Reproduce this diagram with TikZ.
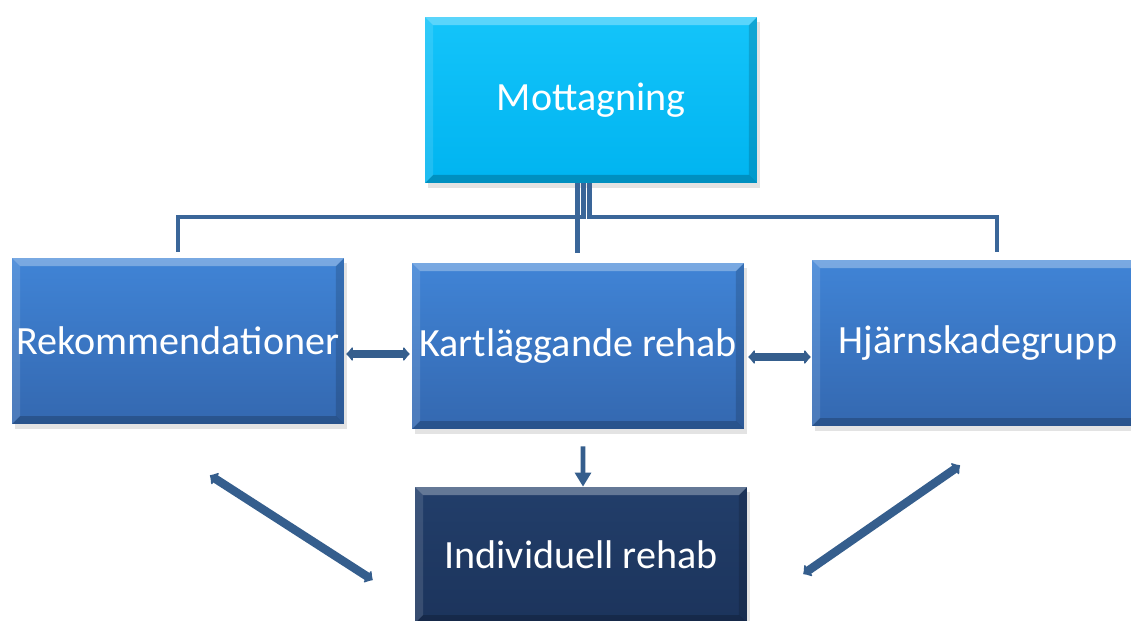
\documentclass[tikz,border=0pt]{standalone}
\usepackage{fontspec}
\setmainfont{Carlito}
\usetikzlibrary{arrows.meta,shadows,calc}
\definecolor{cyanA}{RGB}{20,196,250}
\definecolor{cyanB}{RGB}{0,180,240}
\definecolor{blueA}{RGB}{64,132,214}
\definecolor{blueB}{RGB}{52,104,176}
\definecolor{navyA}{RGB}{34,62,106}
\definecolor{navyB}{RGB}{28,52,92}
\definecolor{lineC}{RGB}{58,102,153}
\tikzset{
  bev/.style={rectangle, minimum width=6.64cm, minimum height=3.32cm, inner sep=0pt,
    text=white, font=\fontsize{22.8}{27}\selectfont,
    drop shadow={opacity=0.22, shadow xshift=0.06cm, shadow yshift=-0.1cm},
    path picture={
      \coordinate (nw) at (path picture bounding box.north west);
      \coordinate (ne) at (path picture bounding box.north east);
      \coordinate (sw) at (path picture bounding box.south west);
      \coordinate (se) at (path picture bounding box.south east);
      \fill[white, opacity=0.3] (nw) -- (ne) -- ++(-0.16cm,-0.16cm) -- ($(nw)+(0.16cm,-0.16cm)$) -- cycle;
      \fill[black, opacity=0.2] (sw) -- (se) -- ++(-0.16cm,0.16cm) -- ($(sw)+(0.16cm,0.16cm)$) -- cycle;
      \fill[white, opacity=0.12] (nw) -- (sw) -- ++(0.16cm,0.16cm) -- ($(nw)+(0.16cm,-0.16cm)$) -- cycle;
      \fill[black, opacity=0.15] (ne) -- (se) -- ++(-0.16cm,0.16cm) -- ($(ne)+(-0.16cm,-0.16cm)$) -- cycle;
    }},
  cyanbox/.style={bev, top color=cyanA, bottom color=cyanB},
  bluebox/.style={bev, top color=blueA, bottom color=blueB},
  navybox/.style={bev, top color=navyA, bottom color=navyB},
  conn/.style={draw=lineC, line width=2.8pt},
  dbl/.style={draw=lineC!92!black, line width=4.8pt, {Latex[length=4pt,width=10pt,round]}-{Latex[length=4pt,width=10pt,round]}},
  darr/.style={draw=lineC!92!black, line width=2.8pt, -{Triangle[length=8pt,width=9pt]}}
}
\begin{document}
\begin{tikzpicture}[x=0.02cm,y=-0.02cm]
\clip (0,0) rectangle (1131,620);
\fill[white] (0,0) rectangle (1131,620);
\node[cyanbox] (mott) at (591,100) {Mottagning};
\node[bluebox] (rek) at (178,341) {Rekommendationer};
\node[bluebox] (kart) at (578,346) {Kartläggande rehab};
\node[bluebox] (hjn) at (978,343) {Hjärnskadegrupp};
\node[navybox, minimum height=2.72cm] (ind) at (581,555) {Individuell rehab};
\coordinate (hl) at (0,217);
\coordinate (hr) at ([xshift=0.38cm]hjn.north);
% connectors from Mottagning
\draw[conn, shorten >=0.12cm] ([xshift=-0.15cm]mott.south) |- (hl -| rek.north) -- (rek.north);
\draw[conn, shorten >=0.2cm] ([xshift=-0.27cm]mott.south) -- ([xshift=-0.27cm]mott.south |- kart.north);
\draw[conn, shorten >=0.16cm] ([xshift=-0.03cm]mott.south) |- (hl -| hr) -- (hr);
% double arrows
\coordinate (a1) at ([yshift=-0.16cm]kart.west);
\draw[dbl, shorten <=0.04cm, shorten >=0.04cm] (a1) -- (a1 -| rek.east);
\coordinate (a2) at ([yshift=-0.22cm]kart.east);
\draw[dbl, shorten <=0.08cm, shorten >=0.02cm] (a2) -- (a2 -| hjn.west);
% down arrow
\draw[darr] ([xshift=0.1cm,yshift=-0.34cm]kart.south) -- ([xshift=0.04cm]ind.north);
% diagonal arrows
\draw[dbl] ([xshift=0.64cm,yshift=-1.02cm]rek.south) -- ([xshift=-0.84cm,yshift=-0.5cm]ind.west);
\draw[dbl] ([xshift=-0.36cm,yshift=-0.78cm]hjn.south) -- ([xshift=1.12cm,yshift=-0.38cm]ind.east);
\end{tikzpicture}
\end{document}
